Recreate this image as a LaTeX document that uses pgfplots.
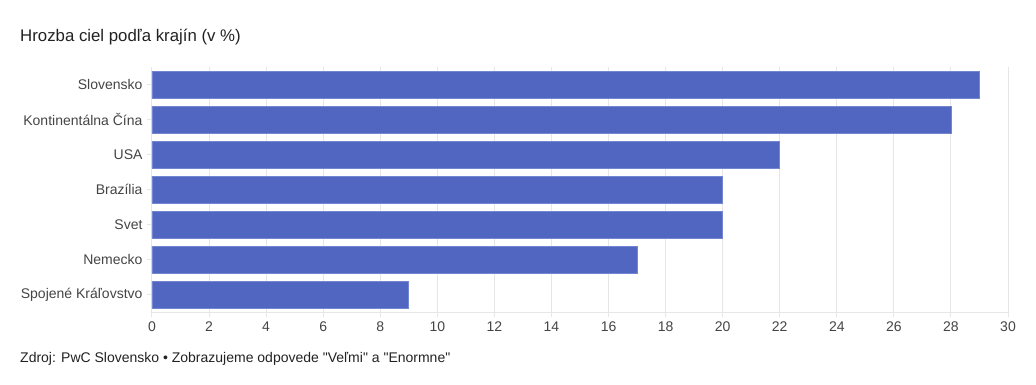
\documentclass[border=0pt]{standalone}
\usepackage{pgfplots}
\pgfplotsset{compat=1.18}
\usepackage{fontspec}
\setmainfont{Liberation Sans}[Ligatures=TeXOff]
\definecolor{barblue}{HTML}{5066C1}
\definecolor{baredge}{HTML}{7286D2}
\definecolor{gridc}{HTML}{E6E6E6}
\definecolor{labc}{HTML}{444444}
\definecolor{titc}{HTML}{222222}
\begin{document}
\begin{tikzpicture}[x=1pt,y=1pt]
\path[use as bounding box] (0,0) rectangle (1036,384);
\node[anchor=base west,inner sep=0pt,text=titc,font=\fontsize{16.8}{19}\selectfont] at (20,343) {Hrozba ciel podľa krajín (v \%)};
\node[anchor=base west,inner sep=0pt,text=titc,font=\fontsize{14}{16}\selectfont] at (20,22) {Zdroj: PwC Slovensko • Zobrazujeme odpovede "Veľmi" a "Enormne"};
\begin{axis}[
  at={(152pt,72pt)}, anchor=south west,
  scale only axis, width=856pt, height=245pt,
  xmin=0, xmax=30, ymin=-0.5, ymax=6.5,
  y dir=reverse,
  xbar, bar width=27pt, bar shift=0pt,
  xtick={0,2,...,30},
  ytick={0,...,6},
  yticklabels={Slovensko,Kontinentálna Čína,USA,Brazília,Svet,Nemecko,Spojené Kráľovstvo},
  axis line style={draw=none},
  axis x line*=bottom, axis y line*=left,
  xmajorgrids, major grid style={gridc, line width=1pt},
  tick style={gridc, line width=1pt},
  major tick length=5pt,
  tick align=outside,
  ytick style={gridc},
  ticklabel style={text=labc, font=\fontsize{14}{16}\selectfont},
  /pgf/number format/assume math mode=true,
  xticklabel style={yshift=-1pt},
  yticklabel style={xshift=-1pt},
  clip=false,
]
\addplot[fill=barblue, draw=baredge, line width=0.8pt] coordinates {
 (29,0) (28,1) (22,2) (20,3) (20,4) (17,5) (9,6)
};
\draw[gridc, line width=1pt] (axis cs:0,6.5) -- (axis cs:30,6.5);
\end{axis}
\end{tikzpicture}
\end{document}
